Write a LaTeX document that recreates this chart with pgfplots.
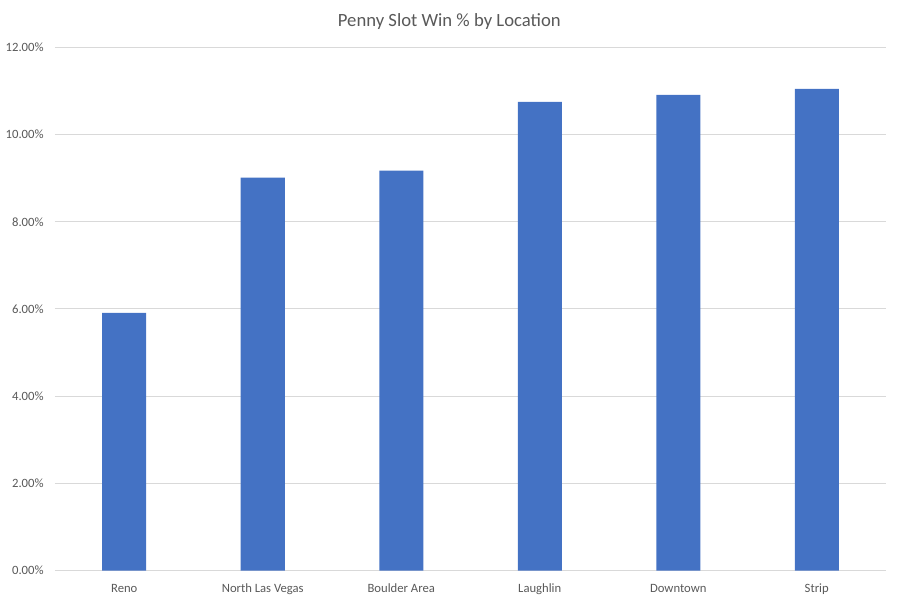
\documentclass[border=0pt]{standalone}
\usepackage{pgfplots}
\pgfplotsset{compat=1.18}
\usepackage{fontspec}
\setmainfont{Carlito}
\definecolor{barblue}{HTML}{4472C4}
\definecolor{gridgray}{HTML}{D9D9D9}
\definecolor{txtgray}{HTML}{595959}

\begin{document}
\begin{tikzpicture}
\begin{axis}[
    scale only axis,
    width=623.25pt,
    height=392.5pt,
    at={(0,0)}, anchor=south west,
    ymin=0, ymax=12,
    xmin=-0.5, xmax=5.5,
    ytick={0,2,...,12},
    yticklabel={\pgfmathprintnumber[fixed,fixed zerofill,precision=2]{\tick}\%},
    xtick=data,
    xticklabels={Reno,North Las Vegas,Boulder Area,Laughlin,Downtown,Strip},
    /pgf/number format/assume math mode=true,
    ymajorgrids,
    grid style={gridgray, line width=0.75pt},
    axis line style={draw=none},
    axis x line*=bottom,
    axis y line*=left,
    major tick length=0pt,
    tick label style={font=\fontsize{9.5}{11}\selectfont, text=txtgray},
    yticklabel style={xshift=-5pt},
    xticklabel style={yshift=-5.5pt, text height=1.6ex, text depth=0.4ex},
    ybar, bar width=33pt,
    clip=false,
]
\draw[gridgray, line width=0.75pt] (rel axis cs:0,0) -- (rel axis cs:1,0);
\addplot[fill=barblue, draw=none] coordinates {
    (0, 5.91)
    (1, 9.01)
    (2, 9.17)
    (3, 10.75)
    (4, 10.91)
    (5, 11.05)
};
\end{axis}
\node[text=txtgray, font=\fontsize{14}{16}\selectfont] at (295.75pt,411.5pt) {Penny Slot Win \% by Location};
\useasboundingbox (-41.25pt,-22pt) rectangle (633pt,428pt);
\end{tikzpicture}
\end{document}
